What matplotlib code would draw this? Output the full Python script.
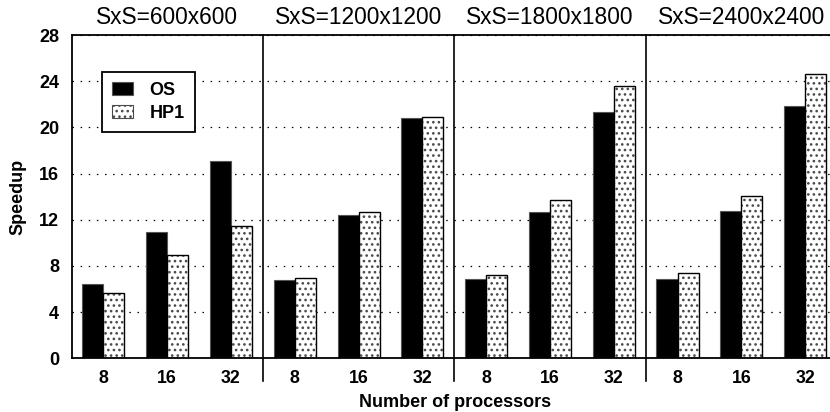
import matplotlib
matplotlib.use("Agg")
import matplotlib.pyplot as plt
import matplotlib.transforms as mtransforms
from matplotlib.patches import Patch
import numpy as np

plt.rcParams['font.family'] = ['Liberation Sans', 'DejaVu Sans']
plt.rcParams['hatch.linewidth'] = 1.1

groups = ["SxS=600x600", "SxS=1200x1200", "SxS=1800x1800", "SxS=2400x2400"]
procs = ["8", "16", "32"]
os_vals = [6.4, 10.9, 17.1,
           6.8, 12.45, 20.85,
           6.85, 12.7, 21.3,
           6.9, 12.8, 21.85]
hp1_vals = [5.65, 8.95, 11.45,
            6.95, 12.65, 20.9,
            7.2, 13.7, 23.55,
            7.35, 14.05, 24.6]
yticks = [0, 4, 8, 12, 16, 20, 24, 28]

W, H = 830, 412
fig = plt.figure(figsize=(W / 100, H / 100), dpi=100)
x0, x1 = 71.5, 837.0
ytop, ybot = 35.0, 358.3
ax = fig.add_axes([x0 / W, (H - ybot) / H, (x1 - x0) / W, (ybot - ytop) / H])

n = len(groups) * len(procs)
xs = np.arange(n) + 0.5
bw = 0.33
dot_col = '#4a4a4a'

ax.bar(xs - bw / 2, os_vals, width=bw, color='black', edgecolor='#555555',
       linewidth=0.8, zorder=3)
ax.bar(xs + bw / 2, hp1_vals, width=bw, color='white', edgecolor=dot_col,
       hatch='...', linewidth=0, zorder=3)
ax.bar(xs + bw / 2, hp1_vals, width=bw, color='none', edgecolor='black',
       linewidth=1.0, zorder=3.5)

ax.set_xlim(0, n)
ax.set_ylim(0, 28)
ax.set_yticks(yticks)
ax.set_yticklabels([str(v) for v in yticks], fontsize=13, fontweight='bold')
ax.set_xticks(xs)
ax.set_xticklabels(procs * len(groups), fontsize=12.8, fontweight='bold')
ax.tick_params(axis='both', length=0)
ax.tick_params(axis='y', pad=9)
ax.tick_params(axis='x', pad=8.5)

for v in yticks[1:]:
    ax.axhline(v, color='black', linewidth=0.9, linestyle=(0, (1.2, 5.3)), zorder=1)

ax.spines['right'].set_visible(False)
for s in ['left', 'bottom', 'top']:
    ax.spines[s].set_linewidth(1.3)
    ax.spines[s].set_zorder(4)

# group separators
below = (ybot - 381.0) / (ybot - ytop) * 28
for g in range(1, len(groups)):
    ax.plot([3 * g, 3 * g], [28, below], color='black', linewidth=1.2,
            clip_on=False, zorder=5)

# group titles
trans = mtransforms.blended_transform_factory(ax.transData, fig.transFigure)
for g, name in enumerate(groups):
    fig.text(3 * g + 1.5, (H - 24) / H, name, transform=trans, ha='center',
             va='baseline', fontsize=16.4)

fig.text(455 / W, (H - 406.7) / H, "Number of processors", ha='center',
         va='baseline', fontsize=13, fontweight='bold')
fig.text(18 / W, (H - 197) / H, "Speedup", ha='center', va='center',
         rotation=90, fontsize=13, fontweight='bold')

handles = [Patch(facecolor='black', edgecolor='#555555', linewidth=0.8, label='OS'),
           Patch(facecolor='white', edgecolor=dot_col, hatch='...', linewidth=0.8,
                 label='HP1')]
leg = ax.legend(handles=handles, loc='upper left',
                bbox_to_anchor=(101.7 / W, (H - 71.7) / H),
                bbox_transform=fig.transFigure, borderaxespad=0,
                prop={'weight': 'bold', 'size': 13}, fancybox=False,
                edgecolor='black', framealpha=1, handlelength=1.2,
                handleheight=0.72, handletextpad=0.9, labelspacing=0.35,
                borderpad=0.55)
leg.get_frame().set_linewidth(1.3)
leg.set_zorder(6)

fig.savefig("out.png", dpi=100)
